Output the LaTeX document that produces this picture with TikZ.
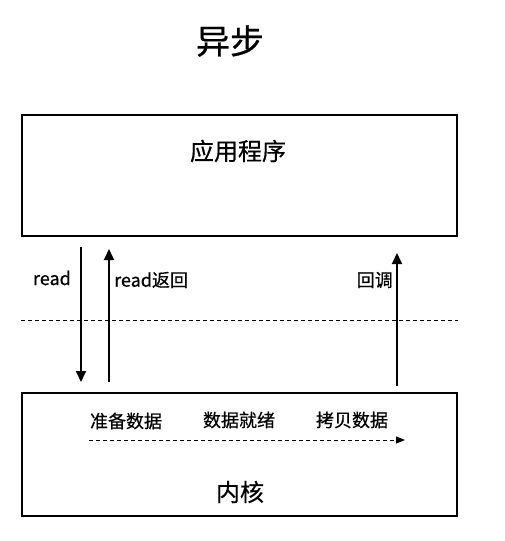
\documentclass[tikz,border=0pt]{standalone}
\usepackage{fontspec}
\setmainfont{Noto Sans CJK SC}[FakeBold=0.6]
\usetikzlibrary{positioning,arrows.meta}

\begin{document}
\begin{tikzpicture}[x=1pt, y=-1pt,
  layer/.style={draw=black, line width=2pt, minimum width=435pt, inner sep=0pt},
  arr/.style={-{Triangle[length=11pt, width=10pt]}, line width=1.8pt},
  lbl/.style={font=\fontsize{18}{18}\selectfont, inner sep=0pt},
  stage/.style={font=\fontsize{18}{18}\selectfont, inner sep=0pt}]
\useasboundingbox (0,0) rectangle (504,541);
\node[font=\fontsize{34}{34}\selectfont, inner sep=0pt] (title) at (230,41) {异步};
\node[layer, minimum height=121pt] (app) at (239.5,175.5) {};
\node[font=\fontsize{24}{24}\selectfont, inner sep=0pt] (apptxt) at (238,151) {应用程序};
\node[layer, minimum height=123pt] (kernel) at (239.5,454.5) {};
\node[font=\fontsize{24}{24}\selectfont, inner sep=0pt] (kertxt) at (240,492) {内核};
% user / kernel boundary
\draw[line width=1pt, dash pattern=on 4pt off 3pt] (app.west |- 0,320) -- (app.east |- 0,320);
% calls between the layers
\coordinate (readtop) at (81,247);
\coordinate (readbot) at (81,382);
\coordinate (rettop) at (109,249);
\coordinate (retbot) at (109,382);
\coordinate (cbtop) at (397,253);
\coordinate (cbbot) at (397,386);
\draw[arr] (readtop) -- (readbot);
\draw[arr] (retbot) -- (rettop);
\draw[arr] (cbbot) -- (cbtop);
\node[lbl, left=10pt of readtop, yshift=-31pt] (readlbl) {read};
\node[lbl, right=5pt of rettop, yshift=-31pt] (retlbl) {read返回};
\node[lbl, left=4pt of cbtop, yshift=-27pt] (cblbl) {回调};
% kernel stages
\node[stage] (prep) at (126,421) {准备数据};
\node[stage] (ready) at (239,420) {数据就绪};
\node[stage] (copy) at (352,420) {拷贝数据};
\coordinate (flowstart) at (89,440);
\coordinate (flowend) at (405,440);
\draw[-{Triangle[length=9pt, width=7pt]}, line width=1pt, dash pattern=on 4pt off 3pt] (flowstart) -- (flowend);
\end{tikzpicture}
\end{document}
